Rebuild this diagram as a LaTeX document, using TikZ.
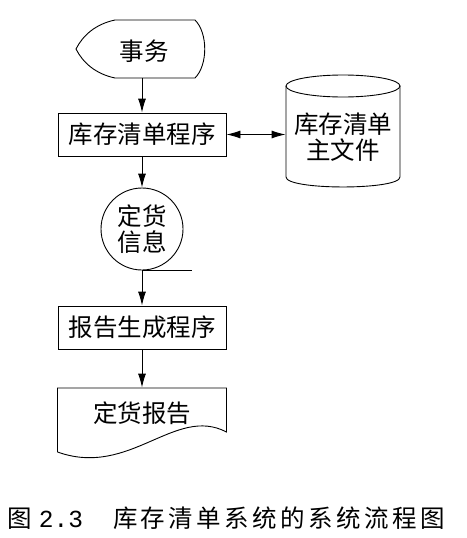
\documentclass[tikz,border=0pt]{standalone}
\usepackage{fontspec}
\setmainfont{Noto Sans CJK SC}
\newfontfamily\capfont[LetterSpace=14]{Noto Sans CJK SC}
\newfontfamily\digitfont{Liberation Mono}
\usetikzlibrary{arrows.meta}

\begin{document}
\begin{tikzpicture}[x=1pt,y=-1pt,line width=0.9pt,
    flow/.style={-{Latex[length=14pt,width=8pt]}},
    flowboth/.style={{Latex[length=14pt,width=8pt]}-{Latex[length=14pt,width=8pt]}},
    lbl/.style={font=\fontsize{24.5}{26}\selectfont,inner sep=0pt,align=center},
    procbox/.style={lbl,draw,minimum width=168pt,minimum height=43pt}]
    \useasboundingbox (0,0) rectangle (466,538);

    % display symbol
    \node[lbl,minimum width=124pt,minimum height=54pt] (shiwu) at (144,51) {事务};
    \draw (115,20) -- (195,20) .. controls (208,33) and (208,65) .. (195,78)
        -- (115,78) .. controls (96,74) and (83,63) .. (76,49)
        .. controls (83,35) and (96,24) .. (115,20);

    % programs
    \node[procbox] (kucun) at (142,134.5) {库存清单程序};
    \node[procbox] (baogao) at (142,327.5) {报告生成程序};

    % master file (cylinder)
    \node[lbl,minimum width=114pt,minimum height=112pt] (zhuwj) at (343,137) {库存清单\\主文件};
    \draw (343,86) ellipse [x radius=57, y radius=11];
    \draw (286,86) -- (286,177) .. controls (286,190.3) and (400,190.3) .. (400,177) -- (400,86);

    % magnetic tape
    \node[lbl,draw,circle,minimum size=82pt] (dinghuo) at (142,229) {定货\\信息};
    \draw (dinghuo.south) -- ++(50,0);

    % document
    \node[lbl,minimum width=169pt,minimum height=50pt] (dhbg) at (142,413) {定货报告};
    \draw (57.5,452) -- (57.5,388) -- (226.5,388) -- (226.5,432)
        .. controls (175,405) and (130,478) .. (57.5,452);

    % flow lines
    \draw[flow] (shiwu.south -| kucun.north) -- (kucun.north);
    \draw[flowboth] (kucun.east) -- (kucun.east -| zhuwj.west);
    \draw[flow] (kucun.south) -- (dinghuo.north);
    \draw[flow] (dinghuo.south) -- (baogao.north);
    \draw[flow] (baogao.south) -- (dhbg.north);

    % caption
    \node[anchor=west,inner sep=0pt,font=\fontsize{24.5}{26}\selectfont] (tuming) at (7,518)
        {图\hspace{7pt}{\digitfont 2.3}\hspace{30pt}{\capfont 库存清单系统的系统流程图}};
\end{tikzpicture}
\end{document}
